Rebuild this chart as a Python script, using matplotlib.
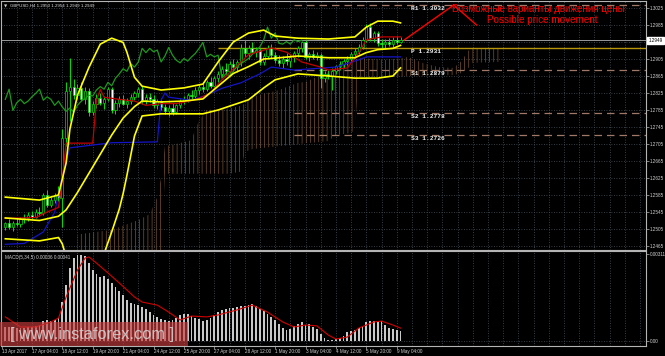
import numpy as np
import matplotlib.pyplot as plt
from matplotlib.patches import Rectangle

plt.rcParams['font.family'] = ['Liberation Sans', 'DejaVu Sans']

# --- GBPUSD H4 candles (bar 0 = 13 Apr 2017, last = 9 May 08:00) ---
opens = [1.2510, 1.2518, 1.2510, 1.2520, 1.2516, 1.2528, 1.2532, 1.2538, 1.2534, 1.2546,
         1.2542, 1.2586, 1.2562, 1.2574, 1.2584, 1.2578, 1.2720, 1.2830, 1.2840, 1.2820,
         1.2836, 1.2812, 1.2830, 1.2780, 1.2800, 1.2814, 1.2802, 1.2810, 1.2834, 1.2784,
         1.2802, 1.2810, 1.2800, 1.2806, 1.2816, 1.2824, 1.2834, 1.2808, 1.2816, 1.2810,
         1.2796, 1.2806, 1.2792, 1.2782, 1.2790, 1.2780, 1.2796, 1.2806, 1.2812, 1.2820,
         1.2818, 1.2832, 1.2840, 1.2834, 1.2850, 1.2842, 1.2860, 1.2870, 1.2882, 1.2876,
         1.2894, 1.2886, 1.2898, 1.2930, 1.2920, 1.2930, 1.2922, 1.2926, 1.2898, 1.2912,
         1.2932, 1.2914, 1.2902, 1.2896, 1.2906, 1.2900, 1.2910, 1.2918, 1.2930, 1.2944,
         1.2910, 1.2916, 1.2910, 1.2914, 1.2860, 1.2870, 1.2866, 1.2876, 1.2888, 1.2894,
         1.2900, 1.2906, 1.2916, 1.2924, 1.2934, 1.2950, 1.2980, 1.2954, 1.2966, 1.2942,
         1.2940, 1.2946, 1.2940, 1.2950, 1.2946]
highs = [1.2522, 1.2528, 1.2524, 1.2530, 1.2534, 1.2540, 1.2544, 1.2548, 1.2552, 1.2556,
         1.2590, 1.2596, 1.2580, 1.2590, 1.2606, 1.2740, 1.2850, 1.2907, 1.2858, 1.2846,
         1.2850, 1.2838, 1.2836, 1.2806, 1.2822, 1.2826, 1.2818, 1.2840, 1.2838, 1.2808,
         1.2818, 1.2820, 1.2814, 1.2822, 1.2830, 1.2840, 1.2842, 1.2822, 1.2826, 1.2820,
         1.2812, 1.2814, 1.2800, 1.2796, 1.2802, 1.2800, 1.2812, 1.2818, 1.2826, 1.2832,
         1.2838, 1.2846, 1.2852, 1.2856, 1.2862, 1.2866, 1.2876, 1.2888, 1.2896, 1.2900,
         1.2906, 1.2902, 1.2940, 1.2950, 1.2938, 1.2944, 1.2934, 1.2932, 1.2918, 1.2938,
         1.2940, 1.2922, 1.2914, 1.2912, 1.2918, 1.2916, 1.2924, 1.2936, 1.2948, 1.2950,
         1.2922, 1.2926, 1.2922, 1.2918, 1.2876, 1.2880, 1.2884, 1.2892, 1.2900, 1.2906,
         1.2912, 1.2922, 1.2930, 1.2940, 1.2956, 1.2988, 1.2990, 1.2972, 1.2972, 1.2952,
         1.2952, 1.2954, 1.2956, 1.2958, 1.2956]
lows = [1.2502, 1.2506, 1.2500, 1.2512, 1.2510, 1.2520, 1.2524, 1.2528, 1.2530, 1.2536,
        1.2538, 1.2556, 1.2556, 1.2566, 1.2570, 1.2510, 1.2700, 1.2760, 1.2812, 1.2810,
        1.2805, 1.2800, 1.2772, 1.2774, 1.2790, 1.2796, 1.2788, 1.2806, 1.2778, 1.2776,
        1.2792, 1.2796, 1.2790, 1.2800, 1.2808, 1.2816, 1.2800, 1.2798, 1.2804, 1.2790,
        1.2788, 1.2786, 1.2776, 1.2772, 1.2774, 1.2776, 1.2790, 1.2798, 1.2804, 1.2812,
        1.2814, 1.2822, 1.2828, 1.2830, 1.2836, 1.2838, 1.2850, 1.2862, 1.2870, 1.2872,
        1.2880, 1.2874, 1.2888, 1.2910, 1.2906, 1.2916, 1.2910, 1.2890, 1.2892, 1.2906,
        1.2908, 1.2896, 1.2888, 1.2884, 1.2892, 1.2886, 1.2898, 1.2910, 1.2922, 1.2904,
        1.2900, 1.2904, 1.2902, 1.2837, 1.2852, 1.2858, 1.2832, 1.2870, 1.2878, 1.2884,
        1.2890, 1.2898, 1.2908, 1.2916, 1.2928, 1.2944, 1.2948, 1.2946, 1.2936, 1.2930,
        1.2932, 1.2936, 1.2934, 1.2940, 1.2942]
closes = [1.2518, 1.2510, 1.2520, 1.2516, 1.2528, 1.2532, 1.2538, 1.2534, 1.2546, 1.2542,
          1.2584, 1.2562, 1.2574, 1.2584, 1.2578, 1.2720, 1.2830, 1.2840, 1.2820, 1.2836,
          1.2812, 1.2830, 1.2780, 1.2800, 1.2814, 1.2802, 1.2810, 1.2834, 1.2784, 1.2802,
          1.2810, 1.2800, 1.2806, 1.2816, 1.2824, 1.2834, 1.2808, 1.2816, 1.2810, 1.2796,
          1.2806, 1.2792, 1.2782, 1.2790, 1.2780, 1.2796, 1.2806, 1.2812, 1.2820, 1.2818,
          1.2832, 1.2840, 1.2834, 1.2850, 1.2842, 1.2860, 1.2870, 1.2882, 1.2876, 1.2894,
          1.2886, 1.2898, 1.2930, 1.2920, 1.2930, 1.2922, 1.2926, 1.2898, 1.2912, 1.2932,
          1.2914, 1.2902, 1.2896, 1.2906, 1.2900, 1.2910, 1.2918, 1.2930, 1.2944, 1.2910,
          1.2916, 1.2910, 1.2914, 1.2860, 1.2870, 1.2866, 1.2876, 1.2888, 1.2894, 1.2900,
          1.2906, 1.2916, 1.2924, 1.2934, 1.2950, 1.2980, 1.2954, 1.2966, 1.2942, 1.2940,
          1.2946, 1.2940, 1.2950, 1.2946, 1.2949]

# Bollinger bands (yellow)
bb_up_x = [0, 9, 14, 16, 17, 19, 22, 25, 28, 31, 32, 34, 36, 41, 47, 52, 56, 60, 64, 68,
           71, 77, 85, 92, 95, 98, 102, 104]
bb_up = [1.2580, 1.2573, 1.2585, 1.2660, 1.2740, 1.2820, 1.2885, 1.2940, 1.2954, 1.2944,
         1.2921, 1.2862, 1.2841, 1.2832, 1.2837, 1.2846, 1.2898, 1.2945, 1.2966, 1.2973,
         1.2959, 1.2954, 1.2952, 1.2957, 1.2980, 1.2994, 1.2994, 1.2990]
bb_mid_x = [0, 9, 14, 16, 19, 23, 28, 31, 34, 36, 41, 47, 52, 56, 60, 64, 68, 71, 77, 85,
            92, 95, 98, 102, 104]
bb_mid = [1.2531, 1.2525, 1.2535, 1.2550, 1.2591, 1.2651, 1.2726, 1.2766, 1.2793, 1.2806,
          1.2804, 1.2806, 1.2811, 1.2841, 1.2871, 1.2887, 1.2905, 1.2907, 1.2912, 1.2908,
          1.2908, 1.2920, 1.2927, 1.2930, 1.2937]
bb_lo_x = [0, 9, 14, 15, 16, 17, 19, 22, 25, 28, 30, 31, 32, 34, 36, 41, 47, 52, 56, 60,
           64, 68, 71, 77, 85, 92, 95, 98, 102, 104]
bb_lo = [1.2482, 1.2477, 1.2485, 1.2470, 1.2440, 1.2384, 1.2362, 1.2387, 1.2422, 1.2498,
         1.2552, 1.2588, 1.2631, 1.2724, 1.2771, 1.2776, 1.2776, 1.2776, 1.2785, 1.2797,
         1.2809, 1.2837, 1.2856, 1.2870, 1.2865, 1.2860, 1.2860, 1.2860, 1.2865, 1.2884]

# Ichimoku: tenkan (red), kijun (blue), cloud spans shifted forward
tenkan_x = [0, 8, 11, 13, 14, 15, 16, 23, 24, 25, 26, 30, 34, 37, 41, 45, 48, 51, 54, 57,
            61, 64, 70, 74, 78, 83, 85, 90, 93, 95, 99, 104]
tenkan = [1.2530, 1.2532, 1.2545, 1.2552, 1.2556, 1.2620, 1.2707, 1.2707, 1.2808, 1.2833,
          1.2815, 1.2810, 1.2806, 1.2796, 1.2800, 1.2800, 1.2805, 1.2812, 1.2825, 1.2856,
          1.2890, 1.2915, 1.2931, 1.2921, 1.2898, 1.2886, 1.2879, 1.2884, 1.2919, 1.2950,
          1.2957, 1.2957]
kijun_x = [0, 5, 10, 13, 15, 17, 28, 40, 41, 42, 43, 49, 53, 57, 62, 67, 70, 76, 87, 93,
           95, 104]
kijun = [1.2469, 1.2471, 1.2498, 1.2545, 1.2630, 1.2696, 1.2708, 1.2710, 1.2808, 1.2825,
         1.2815, 1.2808, 1.2820, 1.2836, 1.2849, 1.2870, 1.2886, 1.2879, 1.2886, 1.2903,
         1.2910, 1.2910]
cloud_x = [19, 28, 35, 38, 40, 41, 42, 44, 49, 50, 51, 53, 59, 62, 63, 65, 72, 77, 79, 82,
           85, 87, 91, 92, 93, 94, 100, 104, 106, 110, 114, 118, 120, 122, 123, 130]
span_a = [1.2492, 1.2503, 1.2526, 1.2540, 1.2580, 1.2625, 1.2700, 1.2703, 1.2714, 1.2740,
          1.2760, 1.2785, 1.2789, 1.2795, 1.2800, 1.2816, 1.2832, 1.2849, 1.2851, 1.2863,
          1.2874, 1.2882, 1.2903, 1.2905, 1.2906, 1.2907, 1.2903, 1.2907, 1.2910, 1.2895,
          1.2886, 1.2884, 1.2900, 1.2926, 1.2931, 1.2931]
span_b = [1.2440, 1.2440, 1.2440, 1.2440, 1.2440, 1.2440, 1.2635, 1.2635, 1.2635, 1.2635,
          1.2635, 1.2635, 1.2635, 1.2640, 1.2686, 1.2693, 1.2700, 1.2704, 1.2707, 1.2709,
          1.2712, 1.2726, 1.2731, 1.2738, 1.2863, 1.2863, 1.2863, 1.2863, 1.2865, 1.2866,
          1.2867, 1.2867, 1.2872, 1.2885, 1.2896, 1.2898]
chikou_shift = 26

# pivot levels (the P line starts earlier than the others)
pivot_names = ['R1', 'P', 'S1', 'S2', 'S3']
pivot_values = [1.3032, 1.2931, 1.2879, 1.2778, 1.2726]
pivot_starts = [76, 56, 76, 76, 76]
last_price = 1.2949

# hand-drawn forecast path
forecast_x = [105, 118, 124]
forecast_y = [1.2950, 1.3032, 1.2985]

# MACD panel
macd_hist = [0.00049, 0.00049, 0.00049, 0.00045, 0.00045, 0.00045, 0.00049, 0.00049, 0.00052, 0.00056,
             0.00070, 0.00074, 0.00070, 0.00074, 0.00081, 0.00138, 0.00199, 0.00260, 0.00295, 0.00306,
             0.00306, 0.00302, 0.00277, 0.00252, 0.00238, 0.00227, 0.00231, 0.00220, 0.00206, 0.00192,
             0.00177, 0.00163, 0.00145, 0.00135, 0.00131, 0.00127, 0.00120, 0.00113, 0.00102, 0.00092,
             0.00085, 0.00077, 0.00074, 0.00070, 0.00074, 0.00081, 0.00092, 0.00095, 0.00095, 0.00088,
             0.00081, 0.00077, 0.00070, 0.00074, 0.00081, 0.00092, 0.00102, 0.00110, 0.00113, 0.00116,
             0.00116, 0.00120, 0.00124, 0.00124, 0.00127, 0.00131, 0.00124, 0.00113, 0.00106, 0.00095,
             0.00085, 0.00074, 0.00060, 0.00045, 0.00038, 0.00042, 0.00052, 0.00060, 0.00067, 0.00056,
             0.00060, 0.00049, 0.00042, 0.00024, 0.00010, 0.00003, 0.00002, 0.00006, 0.00010, 0.00017,
             0.00031, 0.00035, 0.00038, 0.00045, 0.00052, 0.00067, 0.00070, 0.00070, 0.00070, 0.00070,
             0.00056, 0.00045, 0.00042, 0.00038, 0.00035]
signal_x = [0, 4, 8, 12, 14, 16, 19, 21, 22, 24, 27, 30, 34, 36, 40, 43, 46, 49, 53, 56,
            61, 65, 69, 73, 76, 79, 82, 85, 87, 90, 93, 97, 99, 102, 104]
signal = [0.00085, 0.00049, 0.00049, 0.00067, 0.00081, 0.00156, 0.00252, 0.00295, 0.00299, 0.00277,
          0.00242, 0.00206, 0.00156, 0.00138, 0.00127, 0.00102, 0.00074, 0.00088, 0.00085, 0.00092,
          0.00110, 0.00127, 0.00102, 0.00067, 0.00049, 0.00056, 0.00053, 0.00020, 0.00006, 0.00013,
          0.00045, 0.00067, 0.00070, 0.00056, 0.00045]

price_ticks = [1.3025, 1.2985, 1.2945, 1.2905, 1.2865, 1.2825, 1.2785, 1.2745,
               1.2705, 1.2665, 1.2625, 1.2585, 1.2545, 1.2505, 1.2465]
time_ticks = [-0.9, 7, 15, 23, 31, 39, 47, 55, 63, 71, 79, 87, 95, 103]
time_labels = ['13 Apr 2017', '17 Apr 04:00', '18 Apr 12:00', '19 Apr 20:00', '21 Apr 04:00',
               '24 Apr 12:00', '25 Apr 20:00', '27 Apr 04:00', '28 Apr 12:00', '1 May 20:00',
               '3 May 04:00', '4 May 12:00', '5 May 20:00', '9 May 04:00']

# --- figure layout (pixel based, 665x356) ---
W, H = 665, 356
fig = plt.figure(figsize=(W / 100, H / 100), dpi=100, facecolor='black')
ax = fig.add_axes([1 / W, 1 - 249.5 / H, 645 / W, 248.5 / H], facecolor='black')
am = fig.add_axes([1 / W, 1 - 345.5 / H, 645 / W, 94.5 / H], facecolor='black')

XMIN, XMAX = -1.13, 168.6
ax.set_xlim(XMIN, XMAX)
ax.set_ylim(1.245676, 1.304147)
am.set_xlim(XMIN, XMAX)
am.set_ylim(-0.000171, 0.003202)

grid_kw = dict(color='#46525e', lw=0.6, ls=(0, (1, 2)), zorder=0)
for p in price_ticks:
    ax.axhline(p, **grid_kw)
for b in np.arange(3, 169, 4):
    ax.axvline(b, **grid_kw)
    am.axvline(b, **grid_kw)
am.axhline(0, **grid_kw)

# cloud (dotted vertical hatch)
plt.rcParams['hatch.linewidth'] = 0.45
ax.fill_between(cloud_x, span_b, span_a, facecolor='none', edgecolor='#8a5e3c',
                hatch='||||', linewidth=0, zorder=1)

# pivot levels
for name, v, start in zip(pivot_names, pivot_values, pivot_starts):
    if name == 'P':
        ax.hlines(v, start, XMAX, color='#b8960b', lw=1.0, zorder=2)
    else:
        ax.hlines(v, start, XMAX, color='#a07868', lw=0.9, ls=(0, (6, 4)), zorder=2)
    ax.annotate(f'{name} {v:.4f}', (106.8, v), xytext=(0, -0.6), textcoords='offset points',
                ha='left', va='top', color='#ececec', fontsize=4.5, fontweight='bold',
                family=['Liberation Mono', 'DejaVu Sans Mono'], zorder=6)

ax.axhline(last_price, color='#9a9a9a', lw=0.7, zorder=2)

# candles
x = np.arange(len(closes))
o = np.array(opens)
h = np.array(highs)
l = np.array(lows)
c = np.array(closes)
ax.vlines(x, l, h, color='#00e000', lw=0.7, zorder=3)
fill = np.where(c >= o, 'black', 'white')
ax.bar(x, c - o, bottom=o, width=0.62, color=fill, edgecolor='#00e000', linewidth=0.5, zorder=3)

# indicators
ax.plot(x[:len(c) - chikou_shift], c[chikou_shift:], color='#1c9a1c', lw=0.9, zorder=4)
ax.plot(kijun_x, kijun, color='#1414c8', lw=0.9, zorder=4)
ax.plot(tenkan_x, tenkan, color='#c40000', lw=0.9, zorder=4)
ax.plot(bb_up_x, bb_up, color='#ffff00', lw=1.2, zorder=5)
ax.plot(bb_mid_x, bb_mid, color='#ffff00', lw=1.2, zorder=5)
ax.plot(bb_lo_x, bb_lo, color='#ffff00', lw=1.2, zorder=5)

ax.plot(forecast_x, forecast_y, color='#ff0000', lw=1.0, zorder=6)
ax.text(117.6, 1.30226, 'Возможные варианты движения цены', color='#ff0000', fontsize=7.1,
        ha='left', va='center', zorder=7)
ax.text(126.8, 1.29968, 'Possible price movement', color='#ff0000', fontsize=7.1,
        ha='left', va='center', zorder=7)

# axes styling
for a in (ax, am):
    for s in a.spines.values():
        s.set_color('#b4b4b4')
        s.set_linewidth(0.8)
    a.yaxis.tick_right()
    a.tick_params(axis='y', colors='#b4b4b4', labelcolor='#d0d0d0', labelsize=3.3,
                  length=2, width=0.5, pad=1)

ax.set_yticks(price_ticks)
# the 1.2945 label sits under the current-price box
ax.set_yticklabels(['' if abs(p - last_price) < 0.0008 else f'{p:.4f}' for p in price_ticks])
ax.set_xticks([])
ax.text(1.0035, last_price, f'{last_price:.4f}', transform=ax.get_yaxis_transform(),
        ha='left', va='center', fontsize=3.3, color='black', zorder=8, clip_on=False,
        bbox=dict(boxstyle='square,pad=0.25', fc='white', ec='white'))

am.bar(x, macd_hist, width=0.45, color='#c8c8c8', zorder=2)
am.plot(signal_x, signal, color='#d00000', lw=0.8, zorder=3)
am.set_yticks([0.00311, 0.0])
am.set_yticklabels(['0.00311', '0.00'])
am.set_xticks(time_ticks)
am.set_xticklabels(time_labels, ha='left')
am.tick_params(axis='x', colors='#b4b4b4', labelcolor='#d0d0d0', labelsize=3.3,
               length=2, width=0.5, pad=0.6)
am.text(0.006, 0.955, 'MACD(5,34,5) 0.00036 0.00041', transform=am.transAxes,
        ha='left', va='top', fontsize=3.3, color='#d0d0d0')

fig.text(4 / W, 1 - 6 / H, '▼', color='#d0d0d0', fontsize=3, va='center',
         family=['DejaVu Sans'])
fig.text(10 / W, 1 - 6 / H, 'GBPUSD,H4 1.2950 1.2954 1.2949 1.2949', color='#e0e0e0',
         fontsize=3.2, va='center')

# watermark
am.add_patch(Rectangle((0, 1 - 345.5 / H), 188 / W, 23.5 / H, transform=fig.transFigure,
                       facecolor='#c83c3c', alpha=0.65, edgecolor='none', zorder=9,
                       clip_on=False))
fig.text(10 / W, 1 - 334 / H, '[ www.instaforex.com ]', color='#d4d4d4', alpha=0.85,
         fontsize=11.8, va='center', ha='left', zorder=10)

fig.savefig('out.png', dpi=100, facecolor='black')
